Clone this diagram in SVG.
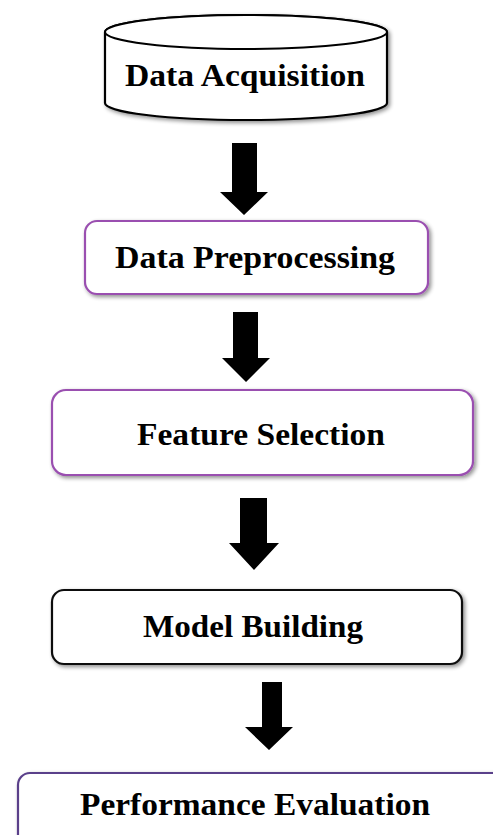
<svg xmlns="http://www.w3.org/2000/svg" width="493" height="835" viewBox="0 0 493 835">
<defs>
<filter id="sh" x="-10%" y="-20%" width="130%" height="150%">
<feGaussianBlur in="SourceAlpha" stdDeviation="2"/>
<feOffset dx="2" dy="2" result="b"/>
<feComponentTransfer><feFuncA type="linear" slope="0.45"/></feComponentTransfer>
<feMerge><feMergeNode/><feMergeNode in="SourceGraphic"/></feMerge>
</filter>
</defs>
<style>
.box{fill:#fff;stroke-width:2.2;filter:url(#sh)}
.lbl{font-family:"Liberation Serif","Times New Roman",serif;font-weight:bold;font-size:32px;fill:#000;text-anchor:middle}
.arr{fill:#000}
</style>
<rect width="493" height="835" fill="#fff"/>
<g id="n1">
<path class="box" stroke="#000" d="M105,32 L105,103 A141,17 0 0 0 387,103 L387,32 A141,17 0 0 0 105,32 Z"/>
<ellipse cx="246" cy="32" rx="141" ry="17" fill="#fff" stroke="#000" stroke-width="2"/>
<text class="lbl" x="245" y="86" textLength="240" lengthAdjust="spacingAndGlyphs">Data Acquisition</text>
</g>
<g id="n2">
<rect class="box" x="85" y="221" width="343" height="73" rx="12" stroke="#9a4fb0"/>
<text class="lbl" x="255" y="268" textLength="280" lengthAdjust="spacingAndGlyphs">Data Preprocessing</text>
</g>
<g id="n3">
<rect class="box" x="52" y="390" width="421" height="85" rx="14" stroke="#9a4fb0"/>
<text class="lbl" x="261" y="445" textLength="248" lengthAdjust="spacingAndGlyphs">Feature Selection</text>
</g>
<g id="n4">
<rect class="box" x="52" y="590" width="410" height="74" rx="12" stroke="#111"/>
<text class="lbl" x="253" y="637" textLength="220" lengthAdjust="spacingAndGlyphs">Model Building</text>
</g>
<g id="n5">
<rect class="box" x="18" y="773" width="492" height="90" rx="12" stroke="#5a3f8a"/>
<text class="lbl" x="255" y="815" textLength="350" lengthAdjust="spacingAndGlyphs">Performance Evaluation</text>
</g>
<g id="connectors">
<polygon class="arr" points="232,143 257,143 257,192 268,192 244,215 220,192 232,192"/>
<polygon class="arr" points="233,312 258,312 258,358 270,358 246,382 222,358 233,358"/>
<polygon class="arr" points="240,498 267,498 267,543 279,543 254,570 229,543 240,543"/>
<polygon class="arr" points="262,682 282,682 282,727 293,727 269,750 245,727 262,727"/>
</g>
</svg>
